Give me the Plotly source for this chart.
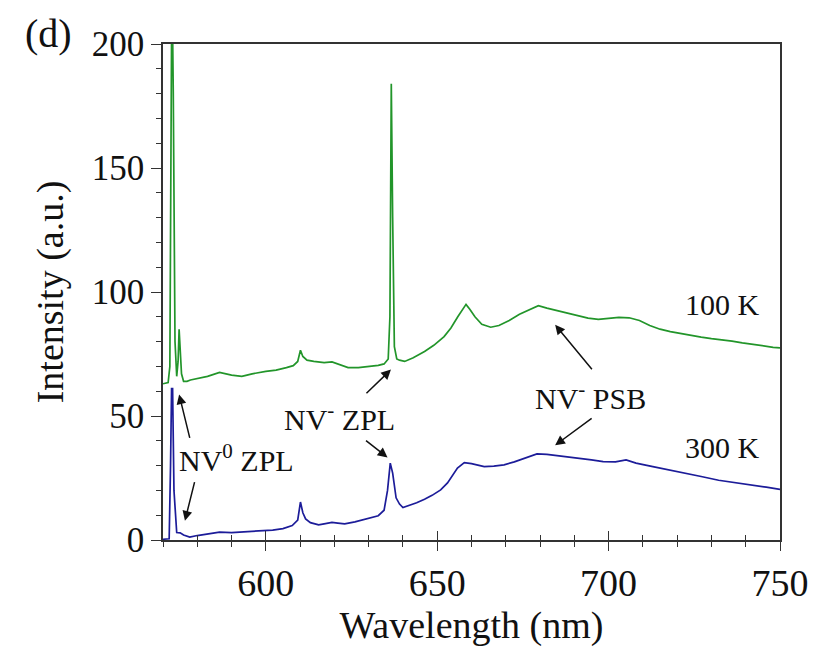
import plotly.graph_objects as go

# ---- data ----
wl_100K = [570, 571.5, 572.0, 572.3, 572.6, 573.0, 573.5, 574.0, 574.4, 574.7,
           575.0, 575.4, 576.0, 577, 578, 580, 583, 586.5, 590, 593,
           596, 600, 603, 606, 608, 609.3, 610.1, 610.8, 612, 614,
           617, 619.3, 621, 624, 627, 630, 632.8, 634.5, 635.7, 636.2,
           636.6, 637.0, 637.5, 638.2, 639, 640.5, 643, 646.3, 649, 652,
           654, 656, 657.5, 658.4, 659.5, 661, 663, 665.6, 668, 671,
           674, 677, 679.5, 682, 685, 688, 690.7, 694, 697, 700,
           703, 706, 709, 712, 715, 718, 721, 724, 727, 730,
           733, 736, 739, 742, 745, 748, 750]
int_100K = [63, 63.5, 70, 150, 230, 180, 80, 66, 72, 85,
            78, 67, 64, 64, 64.5, 65, 66, 67.6, 66.5, 66,
            67, 68, 68.5, 69.5, 70.3, 72, 76.5, 74, 72.5, 72,
            71.5, 71.8, 71, 69.5, 69.5, 70, 70.4, 71, 73, 90,
            184, 130, 78, 73, 72.5, 72, 73.5, 76, 78.5, 82,
            85.5, 90, 93, 95, 93, 90, 87, 85.8, 86.5, 88.5,
            91, 93, 94.5, 93.5, 92.5, 91.5, 90.5, 89.5, 89, 89.3,
            89.8, 89.6, 88.5, 86.5, 85, 84, 83.2, 82.5, 81.8, 81.2,
            80.8, 80.2, 79.5, 78.8, 78.3, 77.7, 77.5]

wl_300K = [570, 571.8, 572.2, 572.5, 572.8, 573.2, 574, 575, 576, 577.8,
           580, 583, 586.5, 590, 594, 598, 602, 605, 607.7, 609.3,
           610.1, 610.8, 611.6, 613, 615.4, 617, 619.3, 621, 623, 626,
           629.4, 631, 632.8, 634.5, 635.5, 636.3, 637, 638, 639, 640,
           642, 644, 646.3, 648.5, 651, 653, 655.9, 657.9, 660, 663.7,
           666.5, 669.5, 672.5, 676, 679.1, 682, 685, 688.7, 692, 695,
           698.4, 702, 705.1, 708, 712.9, 717, 722.5, 727, 732.1, 736,
           741.8, 746, 750]
int_300K = [0.3, 0.5, 30, 61, 61, 20, 3, 2.9, 2, 1.2,
            1.8, 2.5, 3.2, 3, 3.3, 3.6, 4, 4.6, 5.8, 8,
            15.3, 11, 8.5, 7, 6.1, 6.5, 7.1, 6.8, 6.5, 7.3,
            8.7, 9.2, 9.8, 12, 20, 31, 27, 17, 14.5, 13.1,
            14, 15, 16.4, 18, 20.2, 23, 29, 31.2, 30.8, 29.6,
            29.8, 30.3, 31.5, 33.3, 34.7, 34.5, 34, 33.6, 33, 32.3,
            31.6, 31.5, 32.3, 31, 29.6, 28.5, 27, 25.6, 24.1, 23.3,
            22.4, 21.3, 20.4]

x_ticks = [600, 650, 700, 750]
y_ticks = [0, 50, 100, 150, 200]

FONT = "Liberation Serif"
GREEN = "#22952a"
BLUE = "#1c1c99"

fig = go.Figure()
fig.add_trace(go.Scatter(x=wl_100K, y=int_100K, mode="lines",
                         line=dict(color=GREEN, width=1.7), name="100 K",
                         showlegend=False))
fig.add_trace(go.Scatter(x=wl_300K, y=int_300K, mode="lines",
                         line=dict(color=BLUE, width=1.7), name="300 K",
                         showlegend=False))
# invisible trace to carry the overlay axis for crossing x ticks
fig.add_trace(go.Scatter(x=[wl_100K[0]], y=[int_100K[0]], xaxis="x2",
                         mode="markers", marker=dict(opacity=0),
                         hoverinfo="skip", showlegend=False))

axis_col = "#333333"
fig.update_layout(
    width=821, height=649,
    margin=dict(l=163, r=36, t=44, b=101),
    paper_bgcolor="white", plot_bgcolor="white",
    font=dict(family=FONT, color="#111111"),
    xaxis=dict(range=[570, 750], tickvals=x_ticks, ticks="outside",
               ticklen=9, tickwidth=1.3, tickcolor=axis_col,
               minor=dict(dtick=10, ticks="outside", ticklen=5,
                          tickcolor=axis_col, tickwidth=1.2),
               showline=True, linecolor=axis_col, linewidth=1.5,
               mirror=True, showgrid=False, zeroline=False,
               tickfont=dict(family=FONT, size=38, color="#111111"),
               title=dict(text="Wavelength (nm)", standoff=6,
                          font=dict(family=FONT, size=38, color="#111111"))),
    xaxis2=dict(range=[570, 750], overlaying="x", matches="x",
                side="bottom", tickvals=x_ticks, ticks="inside",
                ticklen=9, tickwidth=1.3, tickcolor=axis_col,
                minor=dict(dtick=10, ticks="inside", ticklen=5,
                           tickcolor=axis_col, tickwidth=1.2),
                showticklabels=False, showline=False, showgrid=False,
                zeroline=False),
    yaxis=dict(range=[0, 200], tickvals=y_ticks, ticks="outside",
               ticklen=10, tickwidth=1.3, tickcolor=axis_col,
               minor=dict(dtick=10, ticks="outside", ticklen=5,
                          tickcolor=axis_col, tickwidth=1.2),
               showline=True, linecolor=axis_col, linewidth=1.5,
               mirror=True, showgrid=False, zeroline=False,
               tickfont=dict(family=FONT, size=35, color="#111111"),
               title=dict(text="Intensity (a.u.)", standoff=16,
                          font=dict(family=FONT, size=38, color="#111111"))),
)

txt = dict(family=FONT, size=30, color="#111111")
# text labels
labels = [
    ("NV<sup>0</sup> ZPL", 591.4, 32.9),
    ("NV<sup>-</sup> ZPL", 621.5, 49.6),
    ("NV<sup>-</sup> PSB", 694.7, 57.9),
    ("100 K", 733.2, 94.8),
    ("300 K", 733.2, 37.3),
]
for t, x, y in labels:
    fig.add_annotation(x=x, y=y, xref="x", yref="y", text=t,
                       xanchor="center", yanchor="middle",
                       showarrow=False, font=txt)

# arrows: (head_x, head_y, ax, ay) in data coords + pixel offsets of tail
arrows = [
    (574.7, 58.7, 11, 45),
    (576.4, 7.8, 10, -40),
    (636.5, 68.7, -26, 25),
    (635.5, 33.3, -23, -18),
    (684.4, 86.8, 38, 46),
    (684.4, 38.2, 38, -28),
]
for hx, hy, ax, ay in arrows:
    fig.add_annotation(x=hx, y=hy, xref="x", yref="y", ax=ax, ay=ay,
                       axref="pixel", ayref="pixel", text="",
                       showarrow=True, arrowhead=2, arrowsize=1.3,
                       arrowwidth=1.5, arrowcolor="#111111")

fig.add_annotation(x=-0.185, y=1.022, xref="paper", yref="paper",
                   xanchor="center", yanchor="middle",
                   text="(d)", showarrow=False,
                   font=dict(family=FONT, size=40, color="#111111"))

fig.write_html("out.html")
